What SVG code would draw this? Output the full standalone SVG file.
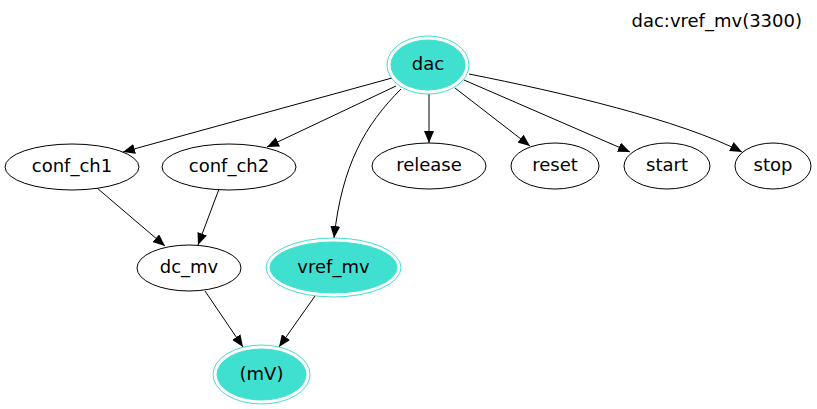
<svg xmlns="http://www.w3.org/2000/svg" width="817" height="409" viewBox="0 0 817 409">
<defs>
<style>
.n{fill:#fff;stroke:#000;stroke-width:1}
.o{fill:none;stroke:#40e0d0;stroke-width:1}
.f{fill:#40e0d0;stroke:#40e0d0;stroke-width:1}
text{font-family:"DejaVu Sans","Liberation Sans",sans-serif;font-size:18px;fill:#000;text-anchor:middle}
.e{fill:none;stroke:#000;stroke-width:1;marker-end:url(#ah)}
</style>
<marker id="ah" viewBox="0 0 12 10" refX="12" refY="5" markerWidth="12" markerHeight="10" markerUnits="userSpaceOnUse" orient="auto">
<path d="M0,0 L12,5 L0,10 z" fill="#000"/>
</marker>
</defs>
<rect width="817" height="409" fill="#fff"/>
<text x="802" y="27" style="text-anchor:end">dac:vref_mv(3300)</text>
<g id="edges">
<path class="e" d="M392,78 L123,152"/>
<path class="e" d="M396,86 L267,147"/>
<path class="e" d="M401,89 C365,125 342,165 334,238"/>
<path class="e" d="M429,94 L429,143"/>
<path class="e" d="M455,88 L530,146"/>
<path class="e" d="M464,80 L630,152"/>
<path class="e" d="M469,74 C560,92 680,120 742,152"/>
<path class="e" d="M97,188 L165,246"/>
<path class="e" d="M219,189 L198,245"/>
<path class="e" d="M205,291 L243,347"/>
<path class="e" d="M315,296 L279,347"/>
</g>
<g id="dac">
<ellipse class="o" cx="428" cy="65" rx="41" ry="29"/>
<ellipse class="f" cx="428" cy="65" rx="37" ry="25"/>
<text x="428" y="70">dac</text>
</g>
<g id="conf_ch1">
<ellipse class="n" cx="72" cy="167" rx="67" ry="23"/>
<text x="72" y="172">conf_ch1</text>
</g>
<g id="conf_ch2">
<ellipse class="n" cx="229" cy="167" rx="67" ry="23"/>
<text x="229" y="172">conf_ch2</text>
</g>
<g id="release">
<ellipse class="n" cx="429" cy="166" rx="57" ry="23"/>
<text x="429" y="171">release</text>
</g>
<g id="reset">
<ellipse class="n" cx="555" cy="166" rx="44" ry="23"/>
<text x="555" y="171">reset</text>
</g>
<g id="start">
<ellipse class="n" cx="667" cy="166" rx="43" ry="23"/>
<text x="667" y="171">start</text>
</g>
<g id="stop">
<ellipse class="n" cx="773" cy="166" rx="38" ry="23"/>
<text x="773" y="171">stop</text>
</g>
<g id="dc_mv">
<ellipse class="n" cx="189" cy="268" rx="52" ry="23"/>
<text x="189" y="273">dc_mv</text>
</g>
<g id="vref_mv">
<ellipse class="o" cx="333.5" cy="267.5" rx="67.5" ry="29.5"/>
<ellipse class="f" cx="333.5" cy="267.5" rx="63.5" ry="25.5"/>
<text x="333.5" y="273">vref_mv</text>
</g>
<g id="mV">
<ellipse class="o" cx="261.5" cy="374.5" rx="48.5" ry="29.5"/>
<ellipse class="f" cx="261.5" cy="374.5" rx="44.5" ry="25.5"/>
<text x="261.5" y="380">(mV)</text>
</g>
</svg>
